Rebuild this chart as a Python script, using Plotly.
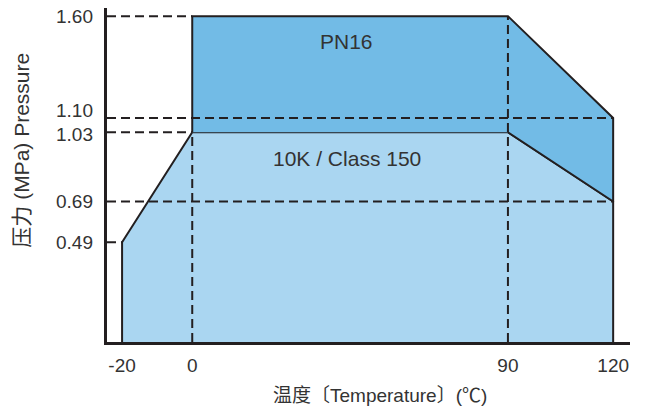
import plotly.graph_objects as go

# ---- data ----
x_ticks = [-20, 0, 90, 120]
y_ticks = [0.49, 0.69, 1.03, 1.10, 1.60]
y_tick_text = ["0.49", "0.69", "1.03", "1.10", "1.60"]

class_temp = [-20, -20, 0, 90, 120, 120]
class_press = [0, 0.49, 1.03, 1.03, 0.69, 0]

pn16_temp = [0, 0, 90, 120, 120, 90]
pn16_press = [1.03, 1.60, 1.60, 1.10, 0.69, 1.03]

series_names = ["10K / Class 150", "PN16"]

# guide lines: (pressure, temperature it extends to)
h_guides = [(1.60, 0), (1.10, 120), (1.03, 0), (0.69, 120), (0.49, -20)]
# vertical guides: (temperature, top pressure)
v_guides = [(0, 1.03), (90, 1.60)]

DARK = "#231F20"
TXT = "#333333"
FONT = "Liberation Sans, Arial, Noto Sans CJK SC, sans-serif"

fig = go.Figure()
fig.add_trace(go.Scatter(
    x=class_temp, y=class_press, fill="toself", fillcolor="#AAD6F1",
    mode="lines", line=dict(color=DARK, width=2), name=series_names[0],
    showlegend=False, hoverinfo="skip"))
fig.add_trace(go.Scatter(
    x=pn16_temp, y=pn16_press, fill="toself", fillcolor="#72BBE6",
    mode="lines", line=dict(color=DARK, width=2), name=series_names[1],
    showlegend=False, hoverinfo="skip"))

x0 = -24.3
for p, t in h_guides:
    fig.add_shape(type="line", x0=x0, x1=t, y0=p, y1=p, xref="x", yref="y",
                  line=dict(color=DARK, width=2, dash="9px,5px"), layer="above")
for t, p in v_guides:
    fig.add_shape(type="line", x0=t, x1=t, y0=0, y1=p, xref="x", yref="y",
                  line=dict(color=DARK, width=2, dash="9px,5px"), layer="above")

# y tick labels (small nudges keep the close 1.10 / 1.03 labels apart)
nudge = {"1.10": 7, "1.03": -2}
for v, t in zip(y_ticks, y_tick_text):
    fig.add_annotation(xref="paper", yref="y", x=0, y=v, text=t, showarrow=False,
                       xanchor="right", yanchor="middle", xshift=-12,
                       yshift=nudge.get(t, 0),
                       font=dict(family=FONT, size=19, color=TXT))

fig.add_annotation(x=44, y=1.477, text="PN16", showarrow=False,
                   xanchor="center", yanchor="middle",
                   font=dict(family=FONT, size=21, color=TXT))
fig.add_annotation(x=44, y=0.903, text="10K / Class 150", showarrow=False,
                   xanchor="center", yanchor="middle",
                   font=dict(family=FONT, size=21, color=TXT))

fig.add_annotation(xref="paper", yref="paper", x=-0.163, y=0.575,
                   xanchor="center", yanchor="middle",
                   text="压力 (MPa) Pressure", textangle=-90, showarrow=False,
                   font=dict(family=FONT, size=21, color=TXT))
fig.add_annotation(xref="paper", yref="paper", x=0.522, y=-0.159,
                   xanchor="center", yanchor="middle",
                   text="温度〔Temperature〕(℃)", showarrow=False,
                   font=dict(family=FONT, size=19, color=TXT))

fig.update_xaxes(range=[x0, 124.8], tickvals=x_ticks, ticktext=[str(v) for v in x_ticks],
                 showgrid=False, zeroline=False, showline=True, linecolor=DARK,
                 linewidth=3, ticks="", ticklabelstandoff=4,
                 tickfont=dict(family=FONT, size=19, color=TXT))
fig.update_yaxes(range=[0, 1.64], tickvals=y_ticks, showticklabels=False,
                 showgrid=False, zeroline=False, showline=True, linecolor=DARK,
                 linewidth=3, ticks="")

fig.update_layout(width=647, height=410, margin=dict(l=107, r=17, t=8, b=68),
                  plot_bgcolor="white", paper_bgcolor="white",
                  font=dict(family=FONT))
fig.write_html("out.html", config={"displayModeBar": False},
               post_script="document.body.style.margin='0';")
